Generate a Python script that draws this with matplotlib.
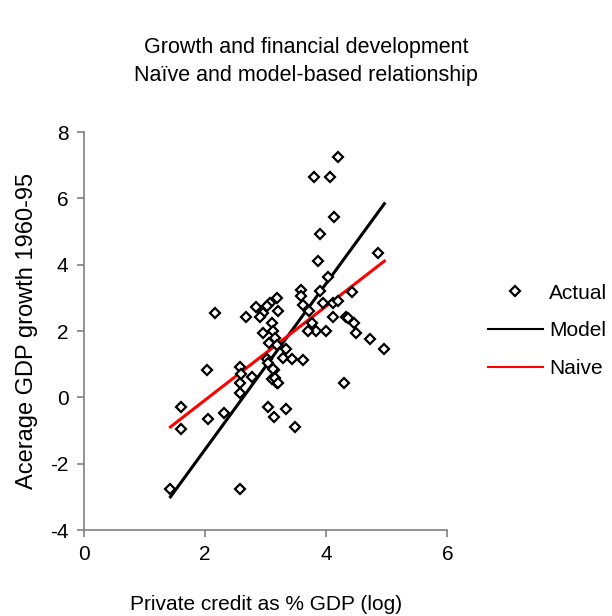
import matplotlib
matplotlib.use("Agg")
import matplotlib.pyplot as plt
from matplotlib.lines import Line2D

plt.rcParams['font.family'] = ['Liberation Sans', 'DejaVu Sans']
plt.rcParams['axes.unicode_minus'] = False

# actual observations: private credit (log) vs GDP growth 1960-95
credit = [1.42, 1.61, 1.61, 2.05, 2.31, 2.57, 2.57, 2.57, 3.04, 3.14,
          3.33, 3.49, 3.18, 3.10, 3.14, 2.77, 4.29, 2.17, 2.67, 2.84,
          2.96, 2.90, 3.07, 3.18, 3.21, 3.10, 2.96, 3.13, 3.06, 2.04,
          2.57, 2.60, 3.02, 3.12, 3.02, 3.15, 3.19, 3.34, 3.29, 3.44,
          3.61, 3.04, 3.15, 3.20, 3.58, 3.58, 3.61, 3.71, 3.89, 3.95,
          4.11, 4.20, 4.11, 3.76, 3.83, 3.70, 3.99, 4.42, 4.32, 4.36,
          4.46, 4.49, 4.72, 4.95, 4.20, 3.80, 4.06, 4.13, 3.89, 3.87,
          4.03, 4.85]
growth = [-2.75, -0.28, -0.96, -0.66, -0.47, 0.42, 0.12, -2.75, -0.28, -0.59,
          -0.36, -0.89, 0.42, 0.56, 0.84, 0.62, 0.42, 2.54, 2.41, 2.72,
          2.54, 2.41, 2.85, 3.00, 2.60, 2.23, 1.95, 2.00, 1.65, 0.84,
          0.92, 0.71, 1.17, 0.86, 2.77, 1.80, 1.57, 1.45, 1.20, 1.16,
          1.14, 1.04, 0.59, 0.44, 3.25, 3.05, 2.80, 2.60, 3.20, 2.85,
          2.85, 2.90, 2.43, 2.25, 2.00, 2.00, 2.00, 3.18, 2.42, 2.40,
          2.25, 1.95, 1.75, 1.45, 7.24, 6.64, 6.64, 5.43, 4.94, 4.11,
          3.63, 4.34]

# fitted lines (end points)
line_x = [1.43, 4.96]
model_y = [-3.0, 5.84]
naive_y = [-0.89, 4.11]

fig = plt.figure(figsize=(6.12, 6.16), dpi=100)
ax = fig.add_axes([0.137, 0.1396, 0.594, 0.646])

ax.plot(line_x, model_y, color='black', linewidth=2.2)
ax.plot(line_x, naive_y, color='#ff0000', linewidth=2.2)
ax.plot(credit, growth, linestyle='none', marker='D', markersize=5,
        markerfacecolor='white', markeredgecolor='black', markeredgewidth=1.6)

ax.set_xlim(0, 6)
ax.set_ylim(-4, 8)
ax.set_xticks([0, 2, 4, 6])
ax.set_yticks(range(-4, 9, 2))
for s in ['top', 'right']:
    ax.spines[s].set_visible(False)
for s in ['left', 'bottom']:
    ax.spines[s].set_color('#808080')
    ax.spines[s].set_linewidth(1.2)
ax.tick_params(direction='out', length=5, width=1.2, color='#808080',
               labelsize=15, pad=6)

ax.set_xlabel('Private credit as % GDP (log)', fontsize=15, labelpad=22)
ax.set_ylabel('Acerage GDP growth 1960-95', fontsize=17, labelpad=9)

fig.text(0.5, 0.9, 'Growth and financial development\nNaïve and model-based relationship',
         ha='center', va='center', fontsize=15.5, linespacing=1.42)

handles = [
    Line2D([], [], linestyle='none', marker='D', markersize=5,
           markerfacecolor='white', markeredgecolor='black', markeredgewidth=1.6),
    Line2D([], [], color='black', linewidth=1.5),
    Line2D([], [], color='#ff0000', linewidth=1.5),
]
fig.legend(handles, ['Actual', 'Model', 'Naive'], loc='center left',
           bbox_to_anchor=(0.766, 0.463), frameon=False, fontsize=15,
           handlelength=2.65, labelspacing=0.89, handletextpad=0.3)

fig.savefig('out.png', dpi=100)
